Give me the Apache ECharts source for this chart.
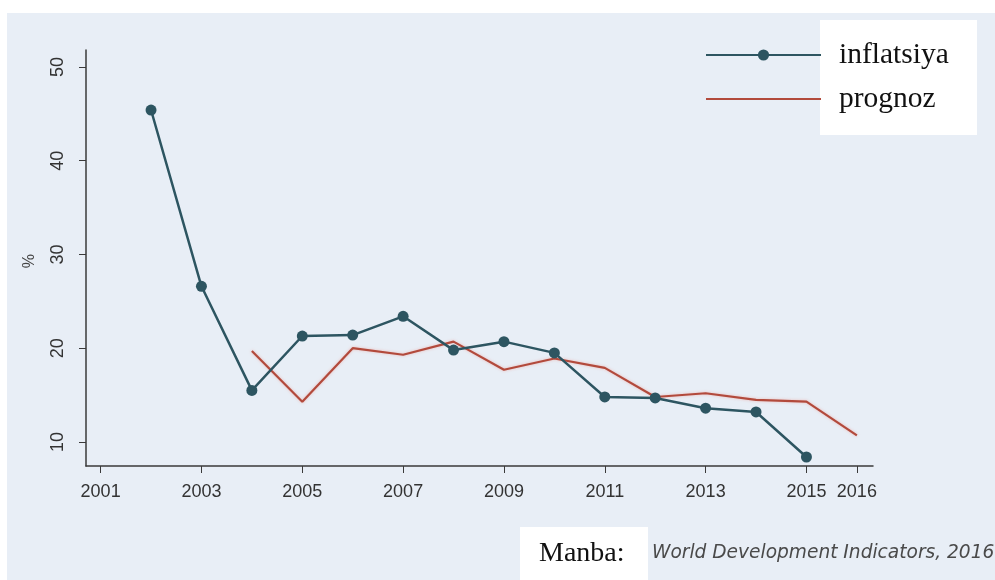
<!DOCTYPE html>
<html>
<head>
<meta charset="utf-8">
<script src="https://cdn.jsdelivr.net/npm/echarts@6/dist/echarts.min.js"></script>
<style>html,body{margin:0;padding:0;background:#fff;}#c{width:995px;height:580px;}</style>
</head>
<body>
<div id="c"></div>
<script>
const inflYears = [2002, 2003, 2004, 2005, 2006, 2007, 2008, 2009, 2010, 2011, 2012, 2013, 2014, 2015];
const inflValues = [45.4, 26.6, 15.5, 21.3, 21.4, 23.4, 19.8, 20.7, 19.5, 14.8, 14.7, 13.6, 13.2, 8.4];
const progYears = [2004, 2005, 2006, 2007, 2008, 2009, 2010, 2011, 2012, 2013, 2014, 2015, 2016];
const progValues = [19.7, 14.3, 20.0, 19.3, 20.7, 17.7, 18.9, 17.9, 14.8, 15.2, 14.5, 14.3, 10.7];
const xTicks = [2001, 2003, 2005, 2007, 2009, 2011, 2013, 2015, 2016];
const yTicks = [10, 20, 30, 40, 50];
const seriesNames = ['inflatsiya', 'prognoz'];
const yAxisName = '%';
const sourceLabel = 'Manba:';
const sourceText = 'World Development Indicators, 2016';

const chart = echarts.init(document.getElementById('c'), null, {renderer: 'canvas'});
const axisColor = '#3a3a3a';
chart.setOption({
  backgroundColor: '#ffffff',
  animation: false,
  graphic: [
    {type: 'rect', z: -10, silent: true, shape: {x: 7, y: 13, width: 988, height: 567}, style: {fill: '#e8eef6'}},
    {type: 'rect', z: 1, silent: true, shape: {x: 820, y: 20, width: 157, height: 115}, style: {fill: '#ffffff'}},
    {type: 'rect', z: 1, silent: true, shape: {x: 520, y: 527, width: 128, height: 53}, style: {fill: '#ffffff'}},
    {type: 'text', z: 2, silent: true, left: 539, top: 540, style: {text: sourceLabel, font: '28px "Liberation Serif"', fill: '#111'}},
    {type: 'text', z: 2, silent: true, left: 652, top: 544, style: {text: sourceText, font: 'oblique 18.6px "DejaVu Sans"', fill: '#4a4a4a'}},
    {type: 'text', z: 2, silent: true, left: 22, top: 254, rotation: Math.PI/2, style: {text: yAxisName, font: '16px "Liberation Sans"', fill: '#444'}}
  ],
  legend: {
    left: 705, top: 40, orient: 'vertical', itemGap: 14, padding: 0,
    itemWidth: 115, itemHeight: 14,
    data: [
      {name: seriesNames[0]},
      {name: seriesNames[1], itemStyle: {opacity: 0}}
    ],
    textStyle: {fontFamily: 'Liberation Serif', fontSize: 29.5, color: '#111', padding: [0,0,0,13]},
    z: 5
  },
  grid: {left: 86, right: 122, top: 50, bottom: 114, containLabel: false},
  xAxis: {
    type: 'value', min: 2000.71, max: 2016.32,
    splitLine: {show: false},
    axisLine: {lineStyle: {color: axisColor, width: 1.5}},
    axisTick: {customValues: xTicks, length: 7, lineStyle: {color: axisColor}},
    axisLabel: {customValues: xTicks, color: '#333', fontSize: 18, fontFamily: 'Liberation Sans', margin: 17, formatter: v => String(v)}
  },
  yAxis: {
    type: 'value', min: 7.44, max: 51.8,
    splitLine: {show: false},
    axisLine: {show: true, lineStyle: {color: axisColor, width: 1.5}},
    axisTick: {show: true, customValues: yTicks, length: 7, lineStyle: {color: axisColor}},
    axisLabel: {customValues: yTicks, rotate: 90, color: '#333', fontSize: 18, fontFamily: 'Liberation Sans', margin: 19}
  },
  series: [
    {
      name: seriesNames[0], type: 'line',
      data: inflYears.map((y, i) => [y, inflValues[i]]),
      symbol: 'circle', symbolSize: 11,
      lineStyle: {color: '#2d5561', width: 2.5},
      itemStyle: {color: '#2d5561'},
      z: 3
    },
    {
      name: seriesNames[1], type: 'line',
      data: progYears.map((y, i) => [y, progValues[i]]),
      symbol: 'none', showSymbol: false,
      lineStyle: {color: '#b24a3c', width: 2.2, shadowColor: 'rgba(240,150,140,0.6)', shadowBlur: 3},
      itemStyle: {color: '#b24a3c'},
      z: 2
    }
  ]
});
</script>
</body>
</html>
